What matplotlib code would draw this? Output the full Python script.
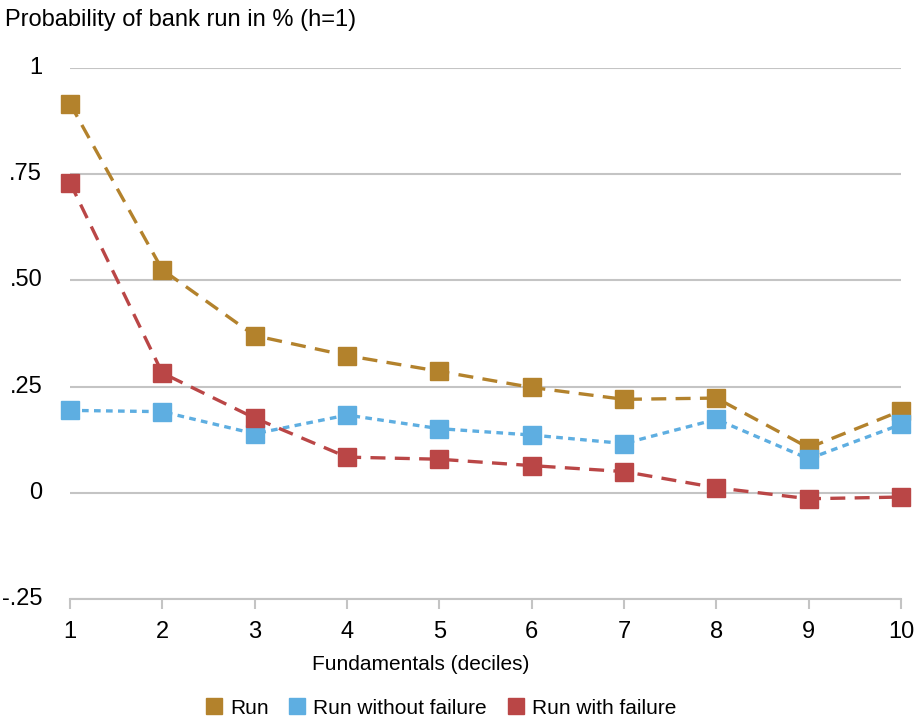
import matplotlib
matplotlib.use("Agg")
import matplotlib.pyplot as plt
from matplotlib.lines import Line2D

plt.rcParams['font.family'] = ['Liberation Sans', 'DejaVu Sans']

deciles = [1, 2, 3, 4, 5, 6, 7, 8, 9, 10]
run = [0.916, 0.525, 0.370, 0.323, 0.286, 0.248, 0.220, 0.223, 0.106, 0.193]
run_no_fail = [0.194, 0.191, 0.139, 0.183, 0.151, 0.136, 0.116, 0.173, 0.080, 0.161]
run_fail = [0.730, 0.282, 0.176, 0.084, 0.079, 0.064, 0.050, 0.012, -0.014, -0.010]

y_ticks = [-0.25, 0, 0.25, 0.5, 0.75, 1]
y_labels = ["-.25", "0", ".25", ".50", ".75", "1"]

gold = "#B3822C"
blue = "#5EAEE1"
red = "#BA4646"

fs = 17
fs_small = 15

fig = plt.figure(figsize=(9.2, 7.26), dpi=100)
ax = fig.add_axes([70 / 920, 1 - 599 / 726, 831 / 920, 531 / 726])

ms = 13
ax.plot(deciles, run, color=gold, lw=2.4, ls=(0, (4.5, 2.8)), marker="s", ms=ms,
        mec=gold, clip_on=False, zorder=3)
ax.plot(deciles, run_no_fail, color=blue, lw=2.4, ls=(0, (2, 1.6)), marker="s", ms=ms,
        mec=blue, clip_on=False, zorder=4)
ax.plot(deciles, run_fail, color=red, lw=2.4, ls=(0, (4.5, 2.8)), marker="s", ms=ms,
        mec=red, clip_on=False, zorder=5)

ax.set_xlim(1, 10)
ax.set_ylim(-0.25, 1)
ax.set_xticks(deciles)
ax.set_yticks(y_ticks)
ax.set_yticklabels(y_labels)
ax.grid(axis="y", color="#c4c4c4", lw=1.5)
ax.set_axisbelow(True)
for s in ["top", "right", "left"]:
    ax.spines[s].set_visible(False)
ax.spines["bottom"].set_color("#c4c4c4")
ax.spines["bottom"].set_linewidth(1.5)
ax.tick_params(axis="x", length=7, width=1.5, color="#c4c4c4", labelsize=fs, pad=9)
ax.tick_params(axis="y", length=0, labelsize=fs, pad=20)
for lab in ax.get_yticklabels():
    lab.set_verticalalignment("center")

fig.text(5 / 920, 1 - 20 / 726, "Probability of bank run in % (h=1)", fontsize=fs,
         ha="left", va="center")
fig.text(421 / 920, 1 - 665 / 726, "Fundamentals (deciles)", fontsize=fs_small,
         ha="center", va="center")

handles = [Line2D([], [], ls="none", marker="s", ms=11.5, color=c, mec=c) for c in (gold, blue, red)]
fig.legend(handles, ["Run", "Run without failure", "Run with failure"],
           loc="center", bbox_to_anchor=(441 / 920, 1 - 708 / 726), ncol=3, frameon=False,
           fontsize=fs_small, handletextpad=0.4, columnspacing=1.0, handlelength=0.75)

fig.savefig("out.png", dpi=100)
